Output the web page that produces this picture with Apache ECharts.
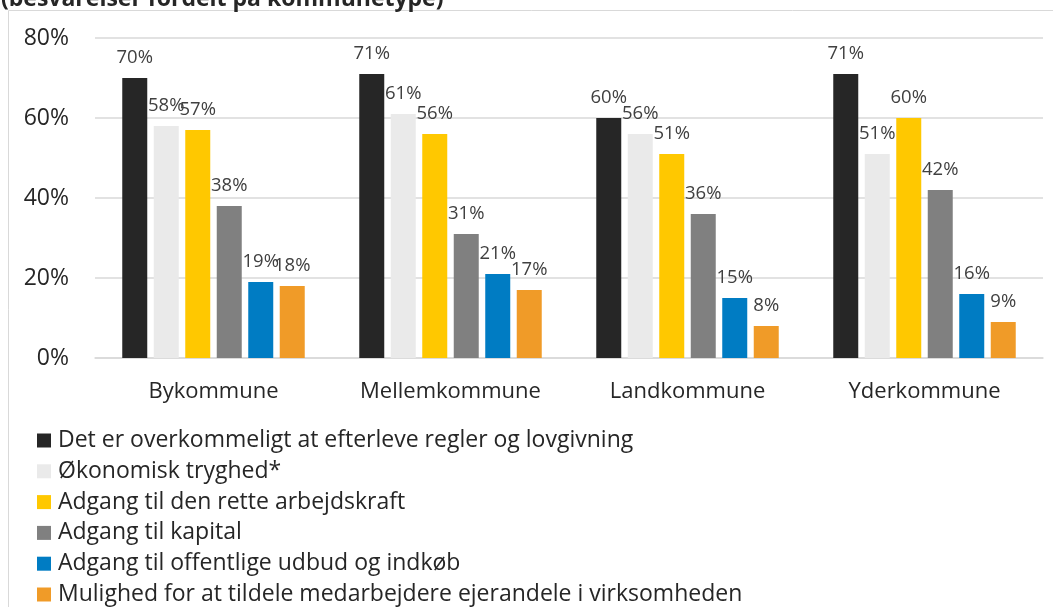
<!DOCTYPE html>
<html>
<head>
<meta charset="utf-8">
<script src="https://cdn.jsdelivr.net/npm/echarts@6/dist/echarts.min.js"></script>
<style>
  html, body { margin: 0; padding: 0; background: #fff; }
  #chart { width: 1053px; height: 607px; }
</style>
</head>
<body>
<div id="chart"></div>
<script>
// kategorier (kommunetyper)
const categories = ['Bykommune', 'Mellemkommune', 'Landkommune', 'Yderkommune'];
// serienavne
const seriesNames = [
  'Det er overkommeligt at efterleve regler og lovgivning',
  'Økonomisk tryghed*',
  'Adgang til den rette arbejdskraft',
  'Adgang til kapital',
  'Adgang til offentlige udbud og indkøb',
  'Mulighed for at tildele medarbejdere ejerandele i virksomheden'
];
// værdier i procent, en række pr. serie
const regler = [70, 71, 60, 71];
const tryghed = [58, 61, 56, 51];
const arbejdskraft = [57, 56, 51, 60];
const kapital = [38, 31, 36, 42];
const udbud = [19, 21, 15, 16];
const ejerandele = [18, 17, 8, 9];
const yTicks = [0, 20, 40, 60, 80];

const colors = ['#262626', '#EAEAEA', '#FFC800', '#808080', '#007CC3', '#F09B28'];
const values = [regler, tryghed, arbejdskraft, kapital, udbud, ejerandele];
const font = '"Open Sans", "Noto Sans", sans-serif';

let myChart = echarts.init(document.getElementById('chart'));
let option = {
  backgroundColor: '#fff',
  animation: false,
  textStyle: { fontFamily: font },
  title: {
    text: '(besvarelser fordelt på kommunetype)',
    left: 1,
    top: -12,
    padding: 0,
    textStyle: { fontSize: 23, fontWeight: 'bold', color: '#262626', fontFamily: font }
  },
  graphic: [{
    type: 'rect',
    shape: { x: 8.5, y: 10.5, width: 1100, height: 700 },
    style: { fill: 'none', stroke: '#D9D9D9', lineWidth: 1 },
    silent: true
  }],
  legend: {
    orient: 'vertical',
    left: 37,
    top: 429,
    padding: 0,
    itemWidth: 14,
    itemHeight: 14,
    itemGap: 7.8,
    icon: 'rect',
    textStyle: { fontSize: 23, lineHeight: 23, color: '#262626', fontFamily: font, padding: [0, 0, 0, 2] },
    data: seriesNames
  },
  grid: { left: 95, right: 10, top: 38, bottom: 249 },
  xAxis: {
    type: 'category',
    data: categories,
    axisTick: { show: false },
    axisLine: { lineStyle: { color: '#D9D9D9', width: 1.5 } },
    axisLabel: { fontSize: 22, color: '#262626', margin: 23, fontFamily: font }
  },
  yAxis: {
    type: 'value',
    min: yTicks[0],
    max: yTicks[yTicks.length - 1],
    interval: 20,
    axisLine: { show: false },
    axisTick: { show: false },
    splitLine: { lineStyle: { color: '#D9D9D9', width: 1.5 } },
    axisLabel: { fontSize: 23, color: '#262626', margin: 26, formatter: '{value}%', fontFamily: font }
  },
  series: seriesNames.map((name, i) => ({
    name: name,
    type: 'bar',
    data: values[i],
    barCategoryGap: '23%',
    barGap: '26%',
    itemStyle: { color: colors[i] },
    label: {
      show: true,
      position: 'top',
      distance: 11,
      fontSize: 18.5,
      color: '#404040',
      fontFamily: font,
      formatter: '{c}%'
    }
  }))
};
myChart.setOption(option);
</script>
</body>
</html>
